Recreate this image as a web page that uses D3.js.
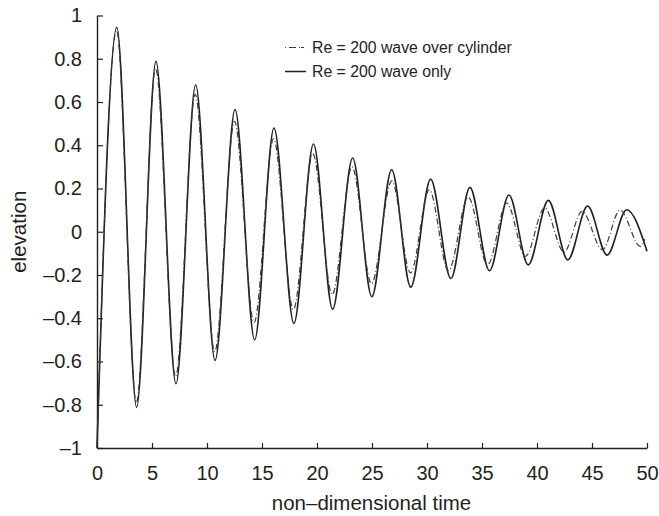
<!DOCTYPE html>
<html>
<head>
<meta charset="utf-8">
<script src="https://cdn.jsdelivr.net/npm/d3@7"></script>
<style>
  html, body { margin: 0; padding: 0; background: #fff; }
  svg { display: block; font-family: "Liberation Sans", Arial, Helvetica, sans-serif; }
</style>
</head>
<body>
<svg id="chart" width="659" height="516"></svg>
<script>
// ---- data ----
const waveOnlyT = [0, 1.8, 3.6, 5.36, 7.18, 8.97, 10.73, 12.55, 14.33, 16.09, 17.9, 19.68, 21.42, 23.24, 24.98, 26.79, 28.52, 30.33, 32.17, 33.9, 35.68, 37.45, 39.2, 41.03, 42.8, 44.6, 46.37, 48.15, 50];
const waveOnlyY = [-1, 0.945, -0.812, 0.788, -0.703, 0.68, -0.595, 0.565, -0.5, 0.48, -0.424, 0.406, -0.358, 0.341, -0.3, 0.287, -0.256, 0.243, -0.216, 0.205, -0.18, 0.17, -0.153, 0.145, -0.13, 0.119, -0.108, 0.102, -0.09];

const cylinderT = [0, 1.78, 3.58, 5.33, 7.15, 8.93, 10.7, 12.5, 14.28, 16.05, 17.85, 19.62, 21.38, 23.18, 24.95, 26.8, 28.5, 30.2, 31.95, 33.75, 35.5, 37.25, 38.95, 40.68, 42.45, 44.1, 45.95, 47.55, 49.4, 49.8];
const cylinderY = [-1, 0.93, -0.79, 0.755, -0.67, 0.635, -0.555, 0.51, -0.42, 0.43, -0.36, 0.36, -0.29, 0.3, -0.24, 0.235, -0.19, 0.194, -0.18, 0.16, -0.153, 0.133, -0.114, 0.11, -0.094, 0.094, -0.083, 0.1, -0.068, -0.035];

const seriesNames = ["Re = 200 wave over cylinder", "Re = 200 wave only"];
const xTicks = [0, 5, 10, 15, 20, 25, 30, 35, 40, 45, 50];
const yTicks = [-1, -0.8, -0.6, -0.4, -0.2, 0, 0.2, 0.4, 0.6, 0.8, 1];
const yTickLabels = ["\u20131", "\u20130.8", "\u20130.6", "\u20130.4", "\u20130.2", "0", "0.2", "0.4", "0.6", "0.8", "1"];
const xTitle = "non\u2013dimensional time";
const yTitle = "elevation";

// ---- layout ----
const ink = "#231f20";
const svg = d3.select("#chart");
const plotLeft = 97, plotRight = 647, plotTop = 15.5, plotBottom = 448;

const x = d3.scaleLinear().domain([0, 50]).range([plotLeft, plotRight]);
const y = d3.scaleLinear().domain([-1, 1]).range([plotBottom, plotTop]);

// axes
const xAxis = d3.axisBottom(x).tickValues(xTicks).tickSizeInner(-5).tickSizeOuter(0).tickPadding(18).tickFormat(d3.format("d"));
const yAxis = d3.axisLeft(y).tickValues(yTicks).tickSizeInner(-6).tickSizeOuter(0).tickPadding(15)
  .tickFormat((d, i) => yTickLabels[i]);

const gx = svg.append("g").attr("transform", `translate(0,${plotBottom})`).call(xAxis);
const gy = svg.append("g").attr("transform", `translate(${plotLeft},0)`).call(yAxis);

[gx, gy].forEach(g => {
  g.select(".domain").attr("stroke", ink).attr("stroke-width", 1.4);
  g.selectAll(".tick line").attr("stroke", ink).attr("stroke-width", 1.2);
  g.selectAll(".tick text").attr("fill", ink).attr("font-size", 20)
    .attr("font-family", "\"Liberation Sans\", Arial, sans-serif");
});

// titles
svg.append("text").attr("x", (plotLeft + plotRight) / 2 - 0.5).attr("y", 510)
  .attr("text-anchor", "middle").attr("font-size", 20.5).attr("fill", ink).text(xTitle);
svg.append("text").attr("transform", `translate(26,${(plotTop + plotBottom) / 2}) rotate(-90)`)
  .attr("text-anchor", "middle").attr("font-size", 20.5).attr("fill", ink).text(yTitle);

// lines
const line = d3.line().x(d => x(d[0])).y(d => y(d[1])).curve(d3.curveMonotoneX);
const cylData = cylinderT.map((t, i) => [t, cylinderY[i]]);
const onlyData = waveOnlyT.map((t, i) => [t, waveOnlyY[i]]);

svg.append("path").datum(onlyData).attr("d", line)
  .attr("fill", "none").attr("stroke", ink).attr("stroke-width", 1.6);
svg.append("path").datum(cylData).attr("d", line)
  .attr("fill", "none").attr("stroke", "#3a3a3a").attr("stroke-width", 1.2)
  .attr("stroke-dasharray", "6,2.5,1,2.5");

// legend
const legend = svg.append("g");
const rows = [
  { name: seriesNames[0], y: 47.5, dash: "1,3,7,3,1", w: 1.2, c: "#3a3a3a" },
  { name: seriesNames[1], y: 71.5, dash: null, w: 1.5, c: ink }
];
rows.forEach(r => {
  legend.append("line").attr("x1", 285).attr("x2", 306).attr("y1", r.y).attr("y2", r.y)
    .attr("stroke", r.c).attr("stroke-width", r.w).attr("stroke-dasharray", r.dash);
  legend.append("text").attr("x", 312).attr("y", r.y).attr("dy", "0.35em")
    .attr("font-size", 15.8).attr("fill", ink).text(r.name);
});
</script>
</body>
</html>
